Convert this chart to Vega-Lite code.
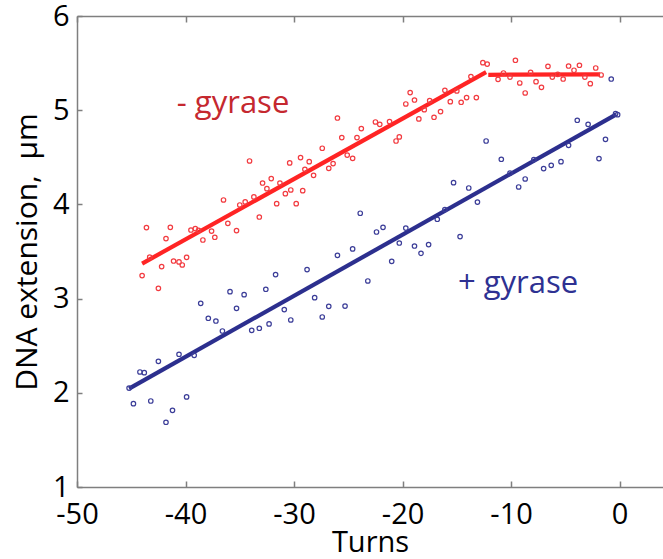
{
  "$schema": "https://vega.github.io/schema/vega-lite/v6.json",
  "autosize": "none",
  "width": 586,
  "height": 471,
  "padding": {"left": 77, "top": 16, "right": 0, "bottom": 72},
  "background": "white",
  "config": {
    "view": {"stroke": null},
    "font": "Open Sans",
    "axis": {"grid": false, "labelFont": "Open Sans", "titleFont": "Open Sans", "labelColor": "#000000", "titleColor": "#000000", "titleFontWeight": "normal", "domainColor": "#7f7f7f", "tickColor": "#7f7f7f", "domainWidth": 1.5, "tickWidth": 1.5, "labelFlush": false, "labelOverlap": false}
  },
  "datasets": {
    "points": [
      {"series": "minus", "turns": -43.6, "extension": 3.754},
      {"series": "minus", "turns": -41.4, "extension": 3.757},
      {"series": "minus", "turns": -43.3, "extension": 3.44},
      {"series": "minus", "turns": -44.0, "extension": 3.244},
      {"series": "minus", "turns": -41.8, "extension": 3.637},
      {"series": "minus", "turns": -42.2, "extension": 3.34},
      {"series": "minus", "turns": -42.5, "extension": 3.109},
      {"series": "minus", "turns": -41.1, "extension": 3.399},
      {"series": "minus", "turns": -40.6, "extension": 3.389},
      {"series": "minus", "turns": -40.3, "extension": 3.357},
      {"series": "minus", "turns": -39.9, "extension": 3.438},
      {"series": "minus", "turns": -39.5, "extension": 3.728},
      {"series": "minus", "turns": -39.1, "extension": 3.743},
      {"series": "minus", "turns": -38.8, "extension": 3.725},
      {"series": "minus", "turns": -38.4, "extension": 3.622},
      {"series": "minus", "turns": -37.6, "extension": 3.717},
      {"series": "minus", "turns": -37.3, "extension": 3.651},
      {"series": "minus", "turns": -36.5, "extension": 4.047},
      {"series": "minus", "turns": -36.1, "extension": 3.799},
      {"series": "minus", "turns": -35.3, "extension": 3.722},
      {"series": "minus", "turns": -35.0, "extension": 3.994},
      {"series": "minus", "turns": -34.5, "extension": 4.026},
      {"series": "minus", "turns": -34.1, "extension": 4.461},
      {"series": "minus", "turns": -33.7, "extension": 4.079},
      {"series": "minus", "turns": -33.2, "extension": 3.866},
      {"series": "minus", "turns": -32.9, "extension": 4.227},
      {"series": "minus", "turns": -32.5, "extension": 4.167},
      {"series": "minus", "turns": -32.1, "extension": 4.274},
      {"series": "minus", "turns": -31.6, "extension": 4.008},
      {"series": "minus", "turns": -31.3, "extension": 4.227},
      {"series": "minus", "turns": -30.8, "extension": 4.114},
      {"series": "minus", "turns": -30.4, "extension": 4.44},
      {"series": "minus", "turns": -30.3, "extension": 4.153},
      {"series": "minus", "turns": -29.8, "extension": 4.008},
      {"series": "minus", "turns": -29.4, "extension": 4.497},
      {"series": "minus", "turns": -29.2, "extension": 4.146},
      {"series": "minus", "turns": -29.0, "extension": 4.373},
      {"series": "minus", "turns": -28.6, "extension": 4.454},
      {"series": "minus", "turns": -28.2, "extension": 4.309},
      {"series": "minus", "turns": -27.4, "extension": 4.596},
      {"series": "minus", "turns": -26.8, "extension": 4.383},
      {"series": "minus", "turns": -26.4, "extension": 4.433},
      {"series": "minus", "turns": -26.0, "extension": 4.917},
      {"series": "minus", "turns": -25.6, "extension": 4.709},
      {"series": "minus", "turns": -25.1, "extension": 4.524},
      {"series": "minus", "turns": -24.6, "extension": 4.489},
      {"series": "minus", "turns": -24.2, "extension": 4.709},
      {"series": "minus", "turns": -23.8, "extension": 4.805},
      {"series": "minus", "turns": -22.5, "extension": 4.875},
      {"series": "minus", "turns": -22.1, "extension": 4.85},
      {"series": "minus", "turns": -21.2, "extension": 4.879},
      {"series": "minus", "turns": -20.6, "extension": 4.673},
      {"series": "minus", "turns": -20.3, "extension": 4.716},
      {"series": "minus", "turns": -19.7, "extension": 5.066},
      {"series": "minus", "turns": -19.3, "extension": 5.187},
      {"series": "minus", "turns": -18.9, "extension": 5.108},
      {"series": "minus", "turns": -18.5, "extension": 4.907},
      {"series": "minus", "turns": -18.0, "extension": 5.006},
      {"series": "minus", "turns": -17.5, "extension": 5.102},
      {"series": "minus", "turns": -17.1, "extension": 4.925},
      {"series": "minus", "turns": -16.5, "extension": 4.985},
      {"series": "minus", "turns": -16.1, "extension": 5.211},
      {"series": "minus", "turns": -15.6, "extension": 5.091},
      {"series": "minus", "turns": -15.0, "extension": 5.204},
      {"series": "minus", "turns": -14.6, "extension": 5.084},
      {"series": "minus", "turns": -14.1, "extension": 5.134},
      {"series": "minus", "turns": -13.7, "extension": 5.357},
      {"series": "minus", "turns": -13.2, "extension": 5.134},
      {"series": "minus", "turns": -12.6, "extension": 5.505},
      {"series": "minus", "turns": -12.2, "extension": 5.49},
      {"series": "minus", "turns": -11.2, "extension": 5.328},
      {"series": "minus", "turns": -10.7, "extension": 5.395},
      {"series": "minus", "turns": -10.1, "extension": 5.352},
      {"series": "minus", "turns": -9.6, "extension": 5.53},
      {"series": "minus", "turns": -9.2, "extension": 5.289},
      {"series": "minus", "turns": -8.7, "extension": 5.183},
      {"series": "minus", "turns": -8.2, "extension": 5.402},
      {"series": "minus", "turns": -7.7, "extension": 5.303},
      {"series": "minus", "turns": -7.2, "extension": 5.243},
      {"series": "minus", "turns": -6.6, "extension": 5.466},
      {"series": "minus", "turns": -6.2, "extension": 5.352},
      {"series": "minus", "turns": -5.7, "extension": 5.381},
      {"series": "minus", "turns": -5.2, "extension": 5.331},
      {"series": "minus", "turns": -4.7, "extension": 5.469},
      {"series": "minus", "turns": -4.2, "extension": 5.424},
      {"series": "minus", "turns": -3.7, "extension": 5.477},
      {"series": "minus", "turns": -3.2, "extension": 5.352},
      {"series": "minus", "turns": -2.7, "extension": 5.282},
      {"series": "minus", "turns": -2.2, "extension": 5.448},
      {"series": "minus", "turns": -1.7, "extension": 5.374},
      {"series": "plus", "turns": -45.2, "extension": 2.05},
      {"series": "plus", "turns": -44.8, "extension": 1.885},
      {"series": "plus", "turns": -44.2, "extension": 2.221},
      {"series": "plus", "turns": -43.8, "extension": 2.214},
      {"series": "plus", "turns": -43.2, "extension": 1.913},
      {"series": "plus", "turns": -42.5, "extension": 2.334},
      {"series": "plus", "turns": -41.8, "extension": 1.687},
      {"series": "plus", "turns": -41.2, "extension": 1.814},
      {"series": "plus", "turns": -40.6, "extension": 2.409},
      {"series": "plus", "turns": -39.9, "extension": 1.956},
      {"series": "plus", "turns": -39.2, "extension": 2.398},
      {"series": "plus", "turns": -38.6, "extension": 2.95},
      {"series": "plus", "turns": -37.9, "extension": 2.791},
      {"series": "plus", "turns": -37.2, "extension": 2.762},
      {"series": "plus", "turns": -36.6, "extension": 2.656},
      {"series": "plus", "turns": -35.9, "extension": 3.074},
      {"series": "plus", "turns": -35.3, "extension": 2.897},
      {"series": "plus", "turns": -34.6, "extension": 3.042},
      {"series": "plus", "turns": -33.9, "extension": 2.663},
      {"series": "plus", "turns": -33.2, "extension": 2.685},
      {"series": "plus", "turns": -32.6, "extension": 3.099},
      {"series": "plus", "turns": -32.3, "extension": 2.731},
      {"series": "plus", "turns": -31.7, "extension": 3.255},
      {"series": "plus", "turns": -30.9, "extension": 2.883},
      {"series": "plus", "turns": -30.3, "extension": 2.773},
      {"series": "plus", "turns": -28.8, "extension": 3.308},
      {"series": "plus", "turns": -28.1, "extension": 3.01},
      {"series": "plus", "turns": -27.4, "extension": 2.805},
      {"series": "plus", "turns": -26.8, "extension": 2.918},
      {"series": "plus", "turns": -26.0, "extension": 3.459},
      {"series": "plus", "turns": -25.3, "extension": 2.921},
      {"series": "plus", "turns": -24.6, "extension": 3.527},
      {"series": "plus", "turns": -23.9, "extension": 3.906},
      {"series": "plus", "turns": -23.2, "extension": 3.187},
      {"series": "plus", "turns": -22.4, "extension": 3.707},
      {"series": "plus", "turns": -21.8, "extension": 3.757},
      {"series": "plus", "turns": -21.0, "extension": 3.396},
      {"series": "plus", "turns": -20.3, "extension": 3.59},
      {"series": "plus", "turns": -19.7, "extension": 3.749},
      {"series": "plus", "turns": -18.9, "extension": 3.558},
      {"series": "plus", "turns": -18.3, "extension": 3.481},
      {"series": "plus", "turns": -17.6, "extension": 3.573},
      {"series": "plus", "turns": -16.8, "extension": 3.842},
      {"series": "plus", "turns": -16.1, "extension": 3.945},
      {"series": "plus", "turns": -15.3, "extension": 4.231},
      {"series": "plus", "turns": -14.7, "extension": 3.658},
      {"series": "plus", "turns": -13.9, "extension": 4.174},
      {"series": "plus", "turns": -13.1, "extension": 4.025},
      {"series": "plus", "turns": -12.3, "extension": 4.673},
      {"series": "plus", "turns": -10.9, "extension": 4.479},
      {"series": "plus", "turns": -10.1, "extension": 4.333},
      {"series": "plus", "turns": -9.3, "extension": 4.185},
      {"series": "plus", "turns": -8.7, "extension": 4.27},
      {"series": "plus", "turns": -7.9, "extension": 4.476},
      {"series": "plus", "turns": -7.0, "extension": 4.38},
      {"series": "plus", "turns": -6.3, "extension": 4.415},
      {"series": "plus", "turns": -5.4, "extension": 4.454},
      {"series": "plus", "turns": -4.7, "extension": 4.627},
      {"series": "plus", "turns": -3.9, "extension": 4.893},
      {"series": "plus", "turns": -2.9, "extension": 4.85},
      {"series": "plus", "turns": -1.9, "extension": 4.486},
      {"series": "plus", "turns": -1.3, "extension": 4.691},
      {"series": "plus", "turns": -0.77, "extension": 5.331},
      {"series": "plus", "turns": -0.37, "extension": 4.963},
      {"series": "plus", "turns": -0.18, "extension": 4.953}
    ],
    "fits": [
      {"series": "minus", "segment": "rise", "turns": -44.0, "extension": 3.372},
      {"series": "minus", "segment": "rise", "turns": -12.3, "extension": 5.405},
      {"series": "minus", "segment": "flat", "turns": -12.1, "extension": 5.376},
      {"series": "minus", "segment": "flat", "turns": -1.8, "extension": 5.38},
      {"series": "plus", "segment": "all", "turns": -45.2, "extension": 2.044},
      {"series": "plus", "segment": "all", "turns": -0.3, "extension": 4.956}
    ],
    "labels": [
      {"series": "minus", "text": "- gyrase", "turns": -40.8, "extension": 4.967},
      {"series": "plus", "text": "+ gyrase", "turns": -14.9, "extension": 3.056}
    ]
  },
  "layer": [
    {
      "data": {"name": "fits"},
      "mark": {"type": "line", "strokeWidth": 4.2, "interpolate": "linear"},
      "encoding": {
        "x": {"field": "turns", "type": "quantitative", "scale": {"domain": [-50, 4], "nice": false, "zero": false},
          "axis": {"orient": "bottom", "values": [-50, -40, -30, -20, -10, 0], "tickSize": -6, "labelPadding": 19, "labelFontSize": 29, "labelExpr": "datum.value < 0 ? replace(datum.label, '\u2212', '-') + '\u00a0\u00a0' : datum.label", "title": "Turns", "titleFontSize": 29, "titlePadding": -1}},
        "y": {"field": "extension", "type": "quantitative", "scale": {"domain": [1, 6], "nice": false, "zero": false},
          "axis": {"orient": "left", "values": [1, 2, 3, 4, 5, 6], "format": "d", "tickSize": -5, "labelPadding": 13, "labelFontSize": 29, "title": "DNA extension,\u00a0\u00a0μm", "titleFontSize": 30, "titlePadding": 10}},
        "detail": {"field": "segment"},
        "color": {"field": "series", "type": "nominal", "scale": {"domain": ["minus", "plus"], "range": ["#ff2424", "#2c2f8e"]}, "legend": null}
      }
    },
    {
      "data": {"name": "points"},
      "mark": {"type": "point", "shape": "circle", "filled": false, "size": 20, "strokeWidth": 1.2, "opacity": 1},
      "encoding": {
        "x": {"field": "turns", "type": "quantitative",
          "axis": {"orient": "top", "values": [-50, -40, -30, -20, -10, 0], "tickSize": -6, "labels": false, "title": null}},
        "y": {"field": "extension", "type": "quantitative"},
        "stroke": {"field": "series", "type": "nominal", "scale": {"domain": ["minus", "plus"], "range": ["#f23b40", "#3b3d98"]}, "legend": null}
      }
    },
    {
      "data": {"name": "labels"},
      "mark": {"type": "text", "align": "left", "baseline": "alphabetic", "fontSize": 31, "font": "Open Sans"},
      "encoding": {
        "x": {"field": "turns", "type": "quantitative", "axis": null},
        "y": {"field": "extension", "type": "quantitative"},
        "text": {"field": "text"},
        "fill": {"field": "series", "type": "nominal", "scale": {"domain": ["minus", "plus"], "range": ["#c5282f", "#2e3192"]}, "legend": null}
      }
    }
  ],
  "resolve": {"scale": {"color": "independent", "stroke": "independent", "fill": "independent"}, "axis": {"x": "independent"}}
}
